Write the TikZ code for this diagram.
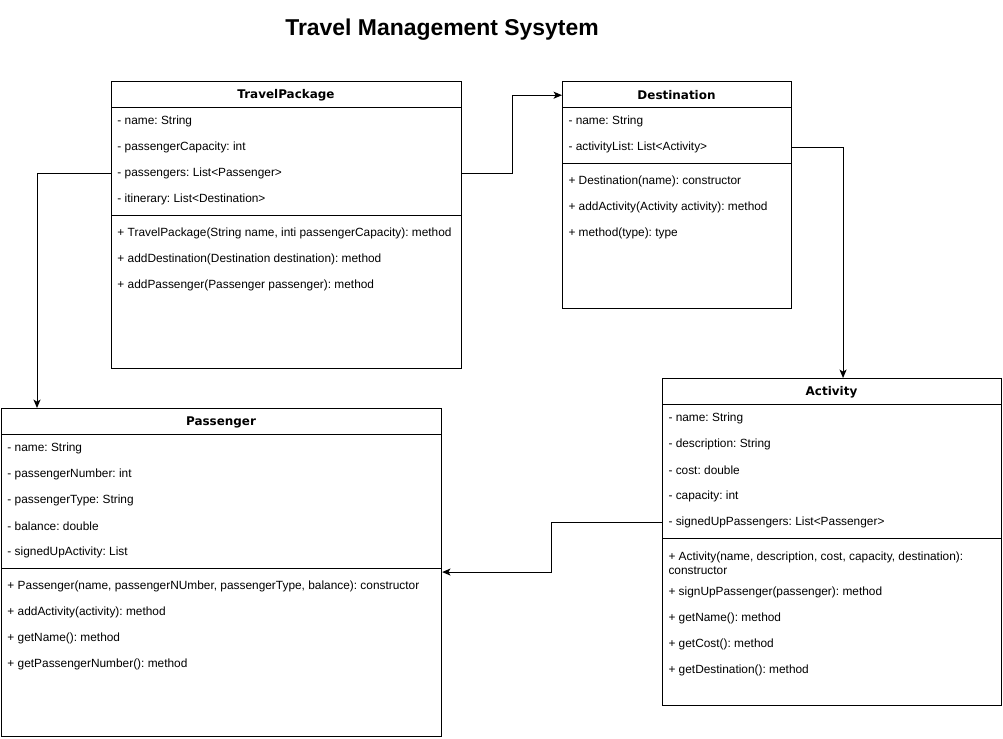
\documentclass[tikz,border=0pt]{standalone}
\usepackage{fontspec}
\setmainfont{Liberation Sans}
\newfontfamily\headfont{DejaVu Sans}
\usetikzlibrary{positioning, arrows.meta}
\frenchspacing

\begin{document}
\begin{tikzpicture}[x=0.025cm, y=-0.025cm, line width=0.7pt,
    classbox/.style={draw, anchor=north west, inner sep=0pt},
    head/.style={yshift=-0.03cm, font=\headfont\bfseries\fontsize{8.5}{10}\selectfont},
    row/.style={anchor=west, yshift=-0.04cm, inner xsep=0.15cm, inner ysep=0pt, align=left,
      font=\fontsize{8.45}{9.9}\selectfont},
    link/.style={-{Stealth[length=6pt, width=5pt, inset=1.5pt]}}]
        \useasboundingbox (0,0) rectangle (1003,738);

        \node[font=\bfseries\fontsize{16.3}{19}\selectfont] (title) at (442,30) {Travel Management Sysytem};

        \node[classbox, minimum width=8.75cm, minimum height=7.175cm] (tp) at (111,81) {};
        \node[head] (tp-head) at (286,94) {TravelPackage};
        \draw ([yshift=-0.65cm]tp.north west) -- ([yshift=-0.65cm]tp.north east);
        \draw ([yshift=-3.35cm]tp.north west) -- ([yshift=-3.35cm]tp.north east);
        \node[row] (tp-name) at (111,120) {- name: String};
        \node[row] (tp-cap) at (111,146) {- passengerCapacity: int};
        \node[row] (tp-pass) at (111,172) {- passengers: List<Passenger>};
        \node[row] (tp-itin) at (111,198) {- itinerary: List<Destination>};
        \node[row] (tp-ctor) at (111,232) {+ TravelPackage(String name, inti passengerCapacity): method};
        \node[row] (tp-adddest) at (111,258) {+ addDestination(Destination destination): method};
        \node[row] (tp-addpass) at (111,284) {+ addPassenger(Passenger passenger): method};

        \node[classbox, minimum width=5.725cm, minimum height=5.675cm] (ds) at (562,81) {};
        \node[head] (ds-head) at (676.5,94) {Destination};
        \draw ([yshift=-0.65cm]ds.north west) -- ([yshift=-0.65cm]ds.north east);
        \draw ([yshift=-2.05cm]ds.north west) -- ([yshift=-2.05cm]ds.north east);
        \node[row] (ds-name) at (562,120) {- name: String};
        \node[row] (ds-list) at (562,146) {- activityList: List<Activity>};
        \node[row] (ds-ctor) at (562,180) {+ Destination(name): constructor};
        \node[row] (ds-addact) at (562,206) {+ addActivity(Activity activity): method};
        \node[row] (ds-meth) at (562,232) {+ method(type): type};

        \node[classbox, minimum width=11cm, minimum height=8.2cm] (ps) at (1,408) {};
        \node[head] (ps-head) at (221,421) {Passenger};
        \draw ([yshift=-0.65cm]ps.north west) -- ([yshift=-0.65cm]ps.north east);
        \draw ([yshift=-4cm]ps.north west) -- ([yshift=-4cm]ps.north east);
        \node[row] (ps-name) at (1,447) {- name: String};
        \node[row] (ps-num) at (1,473) {- passengerNumber: int};
        \node[row] (ps-type) at (1,499) {- passengerType: String};
        \node[row] (ps-bal) at (1,525) {- balance: double};
        \node[row] (ps-act) at (1,551) {- signedUpActivity: List};
        \node[row] (ps-ctor) at (1,585) {+ Passenger(name, passengerNUmber, passengerType, balance): constructor};
        \node[row] (ps-addact) at (1,611) {+ addActivity(activity): method};
        \node[row] (ps-getname) at (1,637) {+ getName(): method};
        \node[row] (ps-getnum) at (1,663) {+ getPassengerNumber(): method};

        \node[classbox, minimum width=8.475cm, minimum height=8.175cm] (ac) at (662,378) {};
        \node[head] (ac-head) at (831.5,391) {Activity};
        \draw ([yshift=-0.65cm]ac.north west) -- ([yshift=-0.65cm]ac.north east);
        \draw ([yshift=-4cm]ac.north west) -- ([yshift=-4cm]ac.north east);
        \node[row] (ac-name) at (662,417) {- name: String};
        \node[row] (ac-desc) at (662,443) {- description: String};
        \node[row] (ac-cost) at (662,469) {- cost: double};
        \node[row] (ac-cap) at (662,495) {- capacity: int};
        \node[row] (ac-signed) at (662,521) {- signedUpPassengers: List<Passenger>};
        \node[row] (ac-ctor) at (662,562) {+ Activity(name, description, cost, capacity, destination):\\constructor};
        \node[row] (ac-signup) at (662,591) {+ signUpPassenger(passenger): method};
        \node[row] (ac-getname) at (662,617) {+ getName(): method};
        \node[row] (ac-getcost) at (662,643) {+ getCost(): method};
        \node[row] (ac-getdest) at (662,669) {+ getDestination(): method};

        \draw[link] (tp-pass.west) -| ([xshift=0.9cm]ps.north west);
        \draw[link] (tp-pass.west -| tp.east) -- ++(50,0) |- (ds-head -| ds.west);
        \draw[link] (ds-list.west -| ds.east) -| ([xshift=4.525cm]ac.north west);
        \draw[link] (ac-signed.west) -- ++(-111,0) |- ([yshift=-4.1cm]ps.north east);
      \end{tikzpicture}
\end{document}
